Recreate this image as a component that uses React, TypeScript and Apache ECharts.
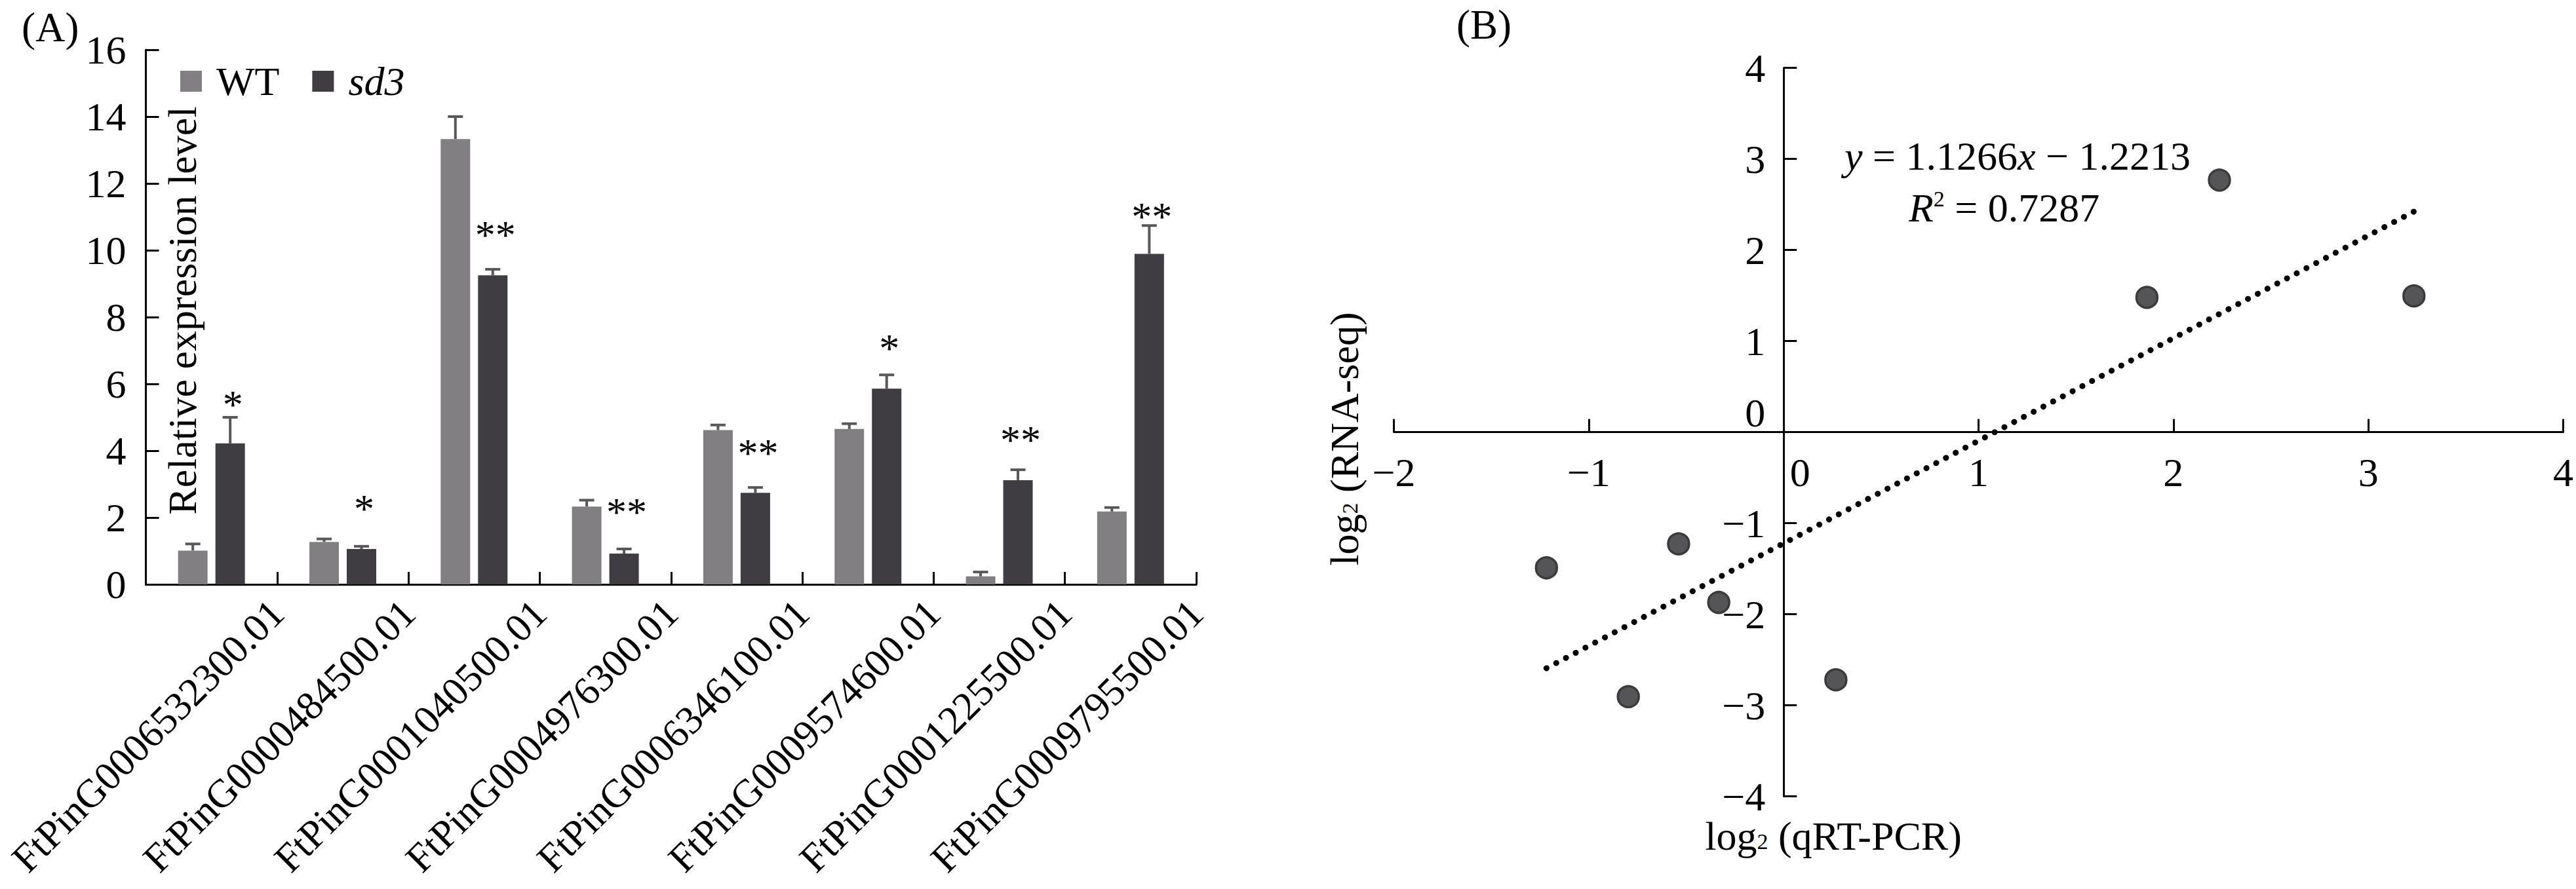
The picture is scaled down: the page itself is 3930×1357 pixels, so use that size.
import React, { useEffect, useRef } from "react";
import * as echarts from "echarts";

// ---------- Data ----------
const GENES = [
  "FtPinG0006532300.01",
  "FtPinG0000484500.01",
  "FtPinG0001040500.01",
  "FtPinG0004976300.01",
  "FtPinG0006346100.01",
  "FtPinG0009574600.01",
  "FtPinG0001225500.01",
  "FtPinG0009795500.01",
];
const WT_VALUES = [1.01, 1.27, 13.33, 2.33, 4.62, 4.65, 0.24, 2.18];
const WT_ERRORS = [0.2, 0.09, 0.67, 0.19, 0.15, 0.16, 0.13, 0.12];
const SD3_VALUES = [4.22, 1.06, 9.25, 0.92, 2.74, 5.86, 3.12, 9.89];
const SD3_ERRORS = [0.78, 0.08, 0.18, 0.14, 0.16, 0.41, 0.31, 0.85];
const SIG_MARKS = ["*", "*", "**", "**", "**", "*", "**", "**"];
const SIG_LEVELS = [5.61, 2.49, 10.69, 2.39, 4.16, 7.3, 4.55, 11.24];
const Y_TICKS_A = { min: 0, max: 16, interval: 2 };

const QRT_PCR = [2.236, 1.864, 3.234, -1.217, -0.539, -0.333, -0.797, 0.268];
const RNA_SEQ = [2.768, 1.48, 1.496, -1.49, -1.227, -1.87, -2.905, -2.72];
const FIT_SLOPE = 1.1266;
const FIT_INTERCEPT = -1.2213;
const FIT_R2 = "0.7287";
const X_TICKS_B = { min: -2, max: 4, interval: 1 };
const Y_TICKS_B = { min: -4, max: 4, interval: 1 };

// ---------- Layout / style ----------
const FONT = '"Liberation Serif", "Times New Roman", serif';
const FS = 62;
const FS_GENE = 61;
const WT_COLOR = "#817f82";
const SD3_COLOR = "#3f3d41";
const ERR_COLOR = "#59575a";
const BAR_W = 45;
const BAR_GAP_PX = 12;
const BAR_OFFSET = (BAR_W + BAR_GAP_PX) / 2;
const CAP_W = 23;

const GRID_A = { left: 222.5, top: 76, width: 1602.5, height: 816 };
const GRID_B = { left: 2126.5, top: 103.6, width: 1784, height: 1112 };
// axes of panel B cross at the origin
const B_X_AXIS_SHIFT = -GRID_B.height * (Y_TICKS_B.max / (Y_TICKS_B.max - Y_TICKS_B.min));
const B_Y_AXIS_SHIFT = -GRID_B.width * ((0 - X_TICKS_B.min) / (X_TICKS_B.max - X_TICKS_B.min));

const minus = (v: number) => (v < 0 ? "\u2212" + Math.abs(v) : String(v));

function errorSeries(values: number[], errors: number[], sign: number) {
  return {
    type: "custom",
    xAxisIndex: 0,
    yAxisIndex: 0,
    silent: true,
    z: 5,
    data: values.map((v, i) => [i, v, errors[i]]),
    renderItem: (_p: any, api: any) => {
      const i = api.value(0);
      const v = api.value(1);
      const e = api.value(2);
      const base = api.coord([i, v]);
      const top = api.coord([i, v + e]);
      const x = base[0] + sign * BAR_OFFSET;
      return {
        type: "group",
        children: [
          {
            type: "line",
            shape: { x1: x, y1: base[1], x2: x, y2: top[1] },
            style: { stroke: ERR_COLOR, lineWidth: 4 },
          },
          {
            type: "line",
            shape: { x1: x - CAP_W / 2, y1: top[1], x2: x + CAP_W / 2, y2: top[1] },
            style: { stroke: ERR_COLOR, lineWidth: 4 },
          },
        ],
      };
    },
  };
}

const subRich = {
  n: { fontFamily: FONT, fontSize: FS, lineHeight: FS, color: "#000" },
  sub: { fontFamily: FONT, fontSize: 34, lineHeight: 20, verticalAlign: "bottom", color: "#000" },
  i: { fontFamily: FONT, fontSize: FS, fontStyle: "italic", lineHeight: FS, color: "#000" },
  sup: { fontFamily: FONT, fontSize: 34, lineHeight: 30, verticalAlign: "top", color: "#000" },
};
const nameRich = {
  n: { fontFamily: FONT, fontSize: FS, lineHeight: 50, color: "#000" },
  sub: { fontFamily: FONT, fontSize: 34, lineHeight: 14, verticalAlign: "bottom", color: "#000" },
};

export default function App() {
  const ref = useRef<HTMLDivElement>(null);
  useEffect(() => {
    if (!ref.current) return;
    const chart = echarts.init(ref.current, undefined, { renderer: "svg" });
    const xMin = Math.min(...QRT_PCR);
    const xMax = Math.max(...QRT_PCR);
    const fitLine = [
      [xMin, FIT_SLOPE * xMin + FIT_INTERCEPT],
      [xMax, FIT_SLOPE * xMax + FIT_INTERCEPT],
    ];
    const axisLineStyle = { color: "#000", width: 3 };
    const labelStyle = { fontFamily: FONT, fontSize: FS, color: "#000" };
    const tickStyle = { width: 3, color: "#000" };

    chart.setOption({
      animation: false,
      backgroundColor: "#fff",
      textStyle: { fontFamily: FONT },
      grid: [
        { ...GRID_A, containLabel: false, outerBoundsMode: "none" },
        { ...GRID_B, containLabel: false, outerBoundsMode: "none" },
      ],
      legend: {
        left: 270,
        top: 88,
        itemWidth: 33,
        itemHeight: 32,
        itemGap: 50,
        icon: "rect",
        itemStyle: { borderWidth: 0 },
        textStyle: { fontFamily: FONT, fontSize: FS, color: "#000", padding: [0, 0, 0, 17] },
        data: [
          { name: "WT" },
          { name: "sd3", textStyle: { fontStyle: "italic" } },
        ],
      },
      xAxis: [
        {
          type: "category",
          gridIndex: 0,
          position: "bottom",
          data: GENES,
          boundaryGap: true,
          axisLine: { show: true, onZero: false, lineStyle: axisLineStyle },
          axisTick: { show: true, inside: true, length: 19, lineStyle: tickStyle },
          axisLabel: { show: false },
          splitLine: { show: false },
        },
        {
          type: "category",
          gridIndex: 0,
          position: "bottom",
          data: ["", ...GENES],
          boundaryGap: false,
          axisLine: { show: false, onZero: false },
          axisTick: { show: false },
          splitLine: { show: false },
          axisLabel: {
            fontFamily: FONT,
            fontSize: FS_GENE,
            color: "#000",
            interval: 0,
            rotate: 45,
            margin: 34,
            hideOverlap: false,
          },
        },
        {
          type: "value",
          gridIndex: 1,
          position: "bottom",
          ...X_TICKS_B,
          offset: B_X_AXIS_SHIFT,
          axisLine: { show: true, onZero: false, lineStyle: axisLineStyle },
          axisTick: { show: true, inside: true, length: 20, lineStyle: tickStyle },
          splitLine: { show: false },
          axisLabel: {
            ...labelStyle,
            margin: 30,
            showMinLabel: true,
            showMaxLabel: true,
            hideOverlap: false,
            formatter: (v: number) => (v === 0 ? "{z|0}" : minus(v)),
            rich: { z: { ...labelStyle, padding: [0, 0, 0, 50] } },
          },
        },
      ],
      yAxis: [
        {
          type: "value",
          gridIndex: 0,
          position: "left",
          ...Y_TICKS_A,
          axisLine: { show: true, onZero: false, lineStyle: axisLineStyle },
          axisTick: { show: true, inside: true, length: 20, lineStyle: tickStyle },
          splitLine: { show: false },
          axisLabel: { ...labelStyle, margin: 30 },
        },
        {
          type: "value",
          gridIndex: 1,
          position: "left",
          ...Y_TICKS_B,
          offset: B_Y_AXIS_SHIFT,
          axisLine: { show: true, onZero: false, lineStyle: axisLineStyle },
          axisTick: { show: true, inside: true, length: 20, lineStyle: tickStyle },
          splitLine: { show: false },
          axisLabel: {
            ...labelStyle,
            margin: 28,
            showMinLabel: true,
            showMaxLabel: true,
            hideOverlap: false,
            formatter: (v: number) => (v === 0 ? "{z|0}" : minus(v)),
            rich: { z: { ...labelStyle, padding: [0, 0, 60, 0] } },
          },
        },
      ],
      series: [
        {
          name: "WT",
          type: "bar",
          xAxisIndex: 0,
          yAxisIndex: 0,
          data: WT_VALUES,
          barWidth: BAR_W,
          barGap: (BAR_GAP_PX / BAR_W) * 100 + "%",
          itemStyle: { color: WT_COLOR },
        },
        {
          name: "sd3",
          type: "bar",
          xAxisIndex: 0,
          yAxisIndex: 0,
          data: SD3_VALUES,
          barWidth: BAR_W,
          barGap: (BAR_GAP_PX / BAR_W) * 100 + "%",
          itemStyle: { color: SD3_COLOR },
        },
        errorSeries(WT_VALUES, WT_ERRORS, -1),
        errorSeries(SD3_VALUES, SD3_ERRORS, 1),
        {
          type: "custom",
          xAxisIndex: 0,
          yAxisIndex: 0,
          silent: true,
          z: 6,
          data: SIG_LEVELS.map((y, i) => [i, y]),
          renderItem: (_p: any, api: any) => {
            const i = api.value(0);
            const p = api.coord([i, api.value(1)]);
            return {
              type: "text",
              x: p[0] + BAR_OFFSET + 4,
              y: p[1] + 0.18 * FS,
              style: {
                text: SIG_MARKS[i],
                font: `${FS}px ${FONT}`,
                fill: "#000",
                align: "center",
                verticalAlign: "middle",
                textAlign: "center",
                textVerticalAlign: "middle",
              },
            };
          },
        },
        {
          type: "line",
          xAxisIndex: 2,
          yAxisIndex: 1,
          data: fitLine,
          showSymbol: false,
          symbol: "none",
          silent: true,
          z: 3,
          lineStyle: { color: "#000", width: 9, type: [0.1, 16.7], cap: "round" },
        },
        {
          type: "scatter",
          xAxisIndex: 2,
          yAxisIndex: 1,
          data: QRT_PCR.map((x, i) => [x, RNA_SEQ[i]]),
          symbolSize: 32,
          z: 4,
          itemStyle: { color: "#555456", borderColor: "#3b3a3c", borderWidth: 3.5, opacity: 1 },
        },
      ],
      graphic: [
        {
          type: "text",
          left: 33,
          top: 10,
          style: { text: "(A)", font: `63px ${FONT}`, fill: "#000" },
        },
        {
          type: "text",
          left: 2222,
          top: 6,
          style: { text: "(B)", font: `63px ${FONT}`, fill: "#000" },
        },
        {
          type: "text",
          x: 278,
          y: 474,
          rotation: Math.PI / 2,
          style: {
            text: "Relative expression level",
            font: `${FS}px ${FONT}`,
            fill: "#000",
            align: "center",
            verticalAlign: "middle",
            textAlign: "center",
            textVerticalAlign: "middle",
          },
        },
        {
          type: "text",
          x: 2051,
          y: 670,
          rotation: Math.PI / 2,
          style: {
            text: "{n|log}{sub|2}{n| (RNA-seq)}",
            rich: nameRich,
            align: "center",
            verticalAlign: "middle",
            textAlign: "center",
            textVerticalAlign: "middle",
          },
        },
        {
          type: "text",
          x: 2797,
          y: 1276,
          style: {
            text: "{n|log}{sub|2}{n| (qRT-PCR)}",
            rich: nameRich,
            align: "center",
            verticalAlign: "middle",
            textAlign: "center",
            textVerticalAlign: "middle",
          },
        },
        {
          type: "text",
          x: 2814,
          y: 238,
          style: {
            text: `{i|y}{n| = ${FIT_SLOPE}}{i|x}{n| \u2212 ${Math.abs(FIT_INTERCEPT)}}`,
            rich: subRich,
            align: "left",
            verticalAlign: "middle",
            textAlign: "left",
            textVerticalAlign: "middle",
          },
        },
        {
          type: "text",
          x: 2912,
          y: 317,
          style: {
            text: `{i|R}{sup|2}{n| = ${FIT_R2}}`,
            rich: subRich,
            align: "left",
            verticalAlign: "middle",
            textAlign: "left",
            textVerticalAlign: "middle",
          },
        },
      ],
    });
    return () => chart.dispose();
  }, []);
  return (
    <div
      ref={ref}
      style={{ position: "absolute", left: 0, top: 0, width: 3930, height: 1357 }}
    />
  );
}
